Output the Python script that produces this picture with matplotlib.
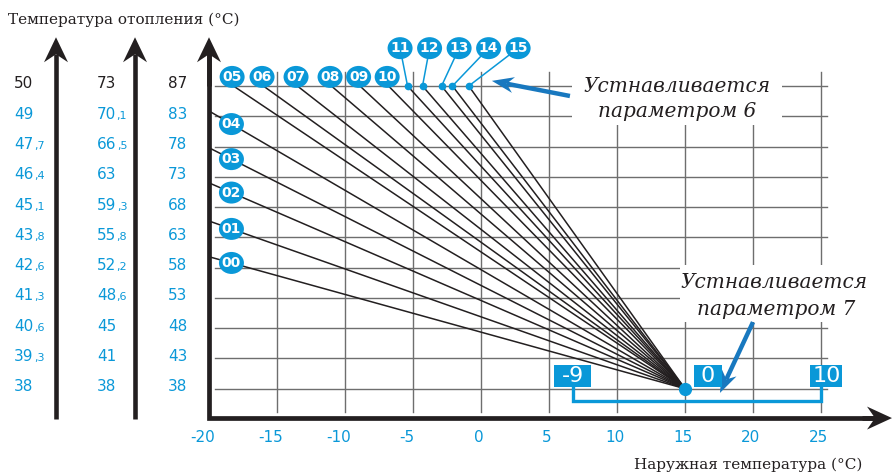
# Кривые отопления: температура отопления от наружной температуры
import numpy as np
import matplotlib.pyplot as plt
from matplotlib.patches import Polygon, Rectangle, Ellipse

# шкалы температуры отопления (сверху вниз), три диапазона
scale_50 = [50, 49, 47.7, 46.4, 45.1, 43.8, 42.6, 41.3, 40.6, 39.3, 38]
scale_73 = [73, 70.1, 66.5, 63, 59.3, 55.8, 52.2, 48.6, 45, 41, 38]
scale_87 = [87, 83, 78, 73, 68, 63, 58, 53, 48, 43, 38]

# наружная температура
outdoor_ticks = [-20, -15, -10, -5, 0, 5, 10, 15, 20, 25]

# кривые 00-04: старт на -20 °C, температура по шкале 87
curves_low = ['00', '01', '02', '03', '04']
low_start_temp = [59.8, 65.7, 72.0, 77.8, 83.7]

# кривые 05-15: старт на уровне 87 °C, наружная температура
curves_high = ['05', '06', '07', '08', '09', '10', '11', '12', '13', '14', '15']
high_start_out = [-18.2, -16.0, -13.5, -11.0, -8.9, -6.8, -5.4, -4.3, -2.9, -2.1, -0.9]

# общая точка (параметр 7)
foot_out, foot_temp = 15, 38
param7_labels = ['-9', '0', '10']
param7_out = [6.75, 16.7, 25.4]
bracket_out = [6.8, 25.0]

BLUE = '#0a98d8'
ARROW_BLUE = '#1878bf'
BLACK = '#231f20'
GRID = '#6e6e6e'

SX, SY = 13.6, 30.27   # пикселей на 1 °C и на 1 деление шкалы


def lev(t):
    # температура отопления -> номер деления (шкала неравномерная)
    return np.interp(t, scale_87[::-1], np.arange(len(scale_87)))


def arrow(ax, tail, tip, color, lw, hl, hw, notch, z=5):
    dx = (tip[0] - tail[0]) * SX
    dy = (tip[1] - tail[1]) * SY
    n = np.hypot(dx, dy)
    ux, uy = dx / n, dy / n
    px, py = -uy, ux
    pts = [(0, 0),
           (-hl * ux + hw / 2 * px, -hl * uy + hw / 2 * py),
           (-notch * ux, -notch * uy),
           (-hl * ux - hw / 2 * px, -hl * uy - hw / 2 * py)]
    verts = [(tip[0] + a / SX, tip[1] + b / SY) for a, b in pts]
    ax.add_patch(Polygon(verts, closed=True, facecolor=color, edgecolor='none', zorder=z))
    ax.plot([tail[0], tip[0] - notch * ux / SX], [tail[1], tip[1] - notch * uy / SY],
            color=color, lw=lw, solid_capstyle='butt', zorder=z)


fig = plt.figure(figsize=(8.92, 4.75), dpi=100)
ax = fig.add_axes([0, 0, 1, 1])
ax.set_xlim(-481 / SX, (892 - 481) / SX)
ax.set_ylim((388.7 - 475) / SY, 388.7 / SY)
ax.axis('off')
renderer = fig.canvas.get_renderer()

levels = np.arange(len(scale_87))
x_left, x_right = -19.55, 25.45
top_v = 10.46

# сетка
for lv in levels:
    ax.plot([x_left, x_right], [lv, lv], color=GRID, lw=1.0, zorder=1)
for xt in outdoor_ticks[1:]:
    ax.plot([xt, xt], [-0.77, top_v], color=GRID, lw=1.0, zorder=1)

# белые подложки под подписи
ax.add_patch(Rectangle((6.7, 8.71), 15.4, 4.0, facecolor='white', edgecolor='none', zorder=2))
ax.add_patch(Rectangle((14.63, 2.2), 15.0, 1.89, facecolor='white', edgecolor='none', zorder=2))

# кривые
for name, t in zip(curves_low, low_start_temp):
    ax.plot([-20, foot_out], [lev(t), lev(foot_temp)], color=BLACK, lw=1.1, zorder=3)
for name, x0 in zip(curves_high, high_start_out):
    ax.plot([x0, foot_out], [lev(87), lev(foot_temp)], color=BLACK, lw=1.1, zorder=3)

# метки кривых
ew, eh = 25 / SX, 22 / SY
lbl_font = dict(color='white', fontsize=10, fontweight='bold', family='DejaVu Sans',
                ha='center', va='center', zorder=7)
for name, t in zip(curves_low, low_start_temp):
    xl = -18.35
    yl = lev(t) + (lev(foot_temp) - lev(t)) * (xl + 20) / (foot_out + 20)
    ax.add_patch(Ellipse((xl, yl), ew, eh, facecolor=BLUE, edgecolor='none', zorder=6))
    ax.text(xl, yl - 0.01, name, **lbl_font)
for i, (name, x0) in enumerate(zip(curves_high, high_start_out)):
    if i < 6:
        xl, yl = x0 - 0.1, 10.3
    else:
        xl, yl = -5.95 + 2.17 * (i - 6), 11.25
        ax.plot([xl, x0], [yl, lev(87)], color=BLUE, lw=1.1, zorder=5)
        ax.plot(x0, lev(87), 'o', color=BLUE, ms=4.5, zorder=5)
    ax.add_patch(Ellipse((xl, yl), ew, eh, facecolor=BLUE, edgecolor='none', zorder=6))
    ax.text(xl, yl - 0.01, name, **lbl_font)

# оси
y_axis = -0.97
y_tip = 11.61
ax.plot([-20, -20, 29], [y_tip - 0.6, y_axis, y_axis], color=BLACK, lw=3.4,
        solid_joinstyle='miter', zorder=4)
arrow(ax, (-20, 10), (-20, y_tip), BLACK, 3.4, 25, 24, 17)
arrow(ax, (28, y_axis), ((892 - 481) / SX, y_axis), BLACK, 3.4, 25, 23, 17)
for xa in [-31.25, -25.44]:
    arrow(ax, (xa, y_axis - 0.02), (xa, y_tip), BLACK, 3.3, 25, 24, 17)

# столбцы шкал
num_font = dict(family='DejaVu Sans', va='baseline', ha='left', zorder=5)
for xc, col in zip([-34.34, -28.24, -23.01], [scale_50, scale_73, scale_87]):
    for k, v in enumerate(col):
        c = BLACK if k == 0 else BLUE
        whole, frac = f'{v:.1f}'.split('.')
        yc = levels[-1 - k] - 0.08
        t = ax.text(xc, yc, whole, color=c, fontsize=11, **num_font)
        if frac != '0':
            bb = t.get_window_extent(renderer)
            x_end = ax.transData.inverted().transform((bb.x1 + 0.5, bb.y0))[0]
            ax.text(x_end, yc, ',' + frac, color=c, fontsize=8, **num_font)

# подписи оси X
for xt in outdoor_ticks:
    shift = 0.45 if xt < 0 else 0.15
    ax.text(xt - shift, -1.6, str(xt), color=BLUE, fontsize=11, family='DejaVu Sans',
            ha='center', va='center')

ax.text(-34.78, 12.18, 'Температура отопления (°C)', fontsize=11, family='DejaVu Serif',
        color=BLACK, ha='left', va='center')
ax.text(28.01, -2.52, 'Наружная температура (°C)', fontsize=11, family='DejaVu Serif',
        color=BLACK, ha='right', va='center')

# параметр 6
it_font = dict(fontsize=14.5, family='DejaVu Serif', style='italic', color=BLACK,
               ha='center', va='center', zorder=6)
ax.text(14.41, 10.0, 'Устнавливается', **it_font)
ax.text(14.45, 9.17, 'параметром 6', **it_font)
arrow(ax, (6.54, 9.67), (0.8, 10.17), ARROW_BLUE, 3.2, 22, 16, 15, z=6)

# параметр 7
ax.text(21.54, 3.5, 'Устнавливается', **it_font)
ax.text(21.7, 2.62, 'параметром 7', **it_font)
arrow(ax, (20.0, 2.2), (17.57, -0.14), ARROW_BLUE, 3.2, 22, 16, 15, z=6)

# скобка диапазона параметра 7
yb = -0.41
ax.plot([bracket_out[0], bracket_out[0], bracket_out[1], bracket_out[1]],
        [0.1, yb, yb, 0.1], color=BLUE, lw=2.4, solid_joinstyle='miter', zorder=5)
box_w = [37 / SX, 28 / SX, 32 / SX]
for lab, xo, bw in zip(param7_labels, param7_out, box_w):
    ax.add_patch(Rectangle((xo - bw / 2, 0.056), bw, 0.73, facecolor=BLUE,
                           edgecolor='none', zorder=6))
    ax.text(xo, 0.41, lab, color='white', fontsize=16, family='DejaVu Sans',
            ha='center', va='center', zorder=7)
ax.plot(foot_out, lev(foot_temp), 'o', color=BLUE, ms=8.5, zorder=6)

fig.savefig('out.png', dpi=100)
